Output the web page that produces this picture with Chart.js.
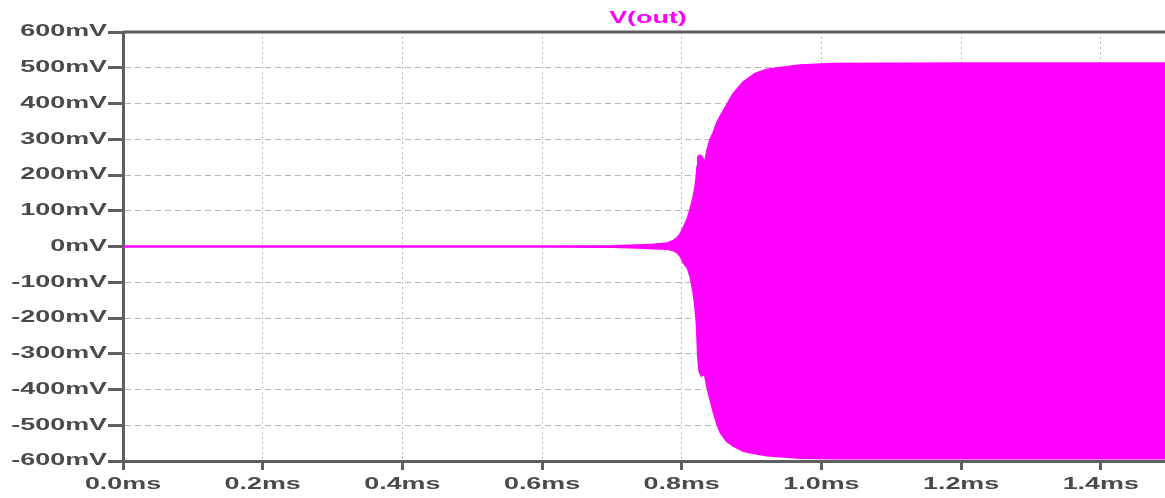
<!DOCTYPE html>
<html>
<head>
<meta charset="UTF-8">
<title>V(out)</title>
<script src="https://cdn.jsdelivr.net/npm/chart.js@4.4.0/dist/chart.umd.min.js"></script>
<style>
  html, body { margin: 0; padding: 0; background: #fff; }
  #wrap { width: 1165px; height: 498px; }
</style>
</head>
<body>
<div id="wrap"><canvas id="chart"></canvas></div>
<script>
  // envelope of V(out) (ms / mV)
  const timeMs = [0.000, 0.600, 0.700, 0.736, 0.760, 0.779, 0.787, 0.793, 0.798, 0.802,
                  0.808, 0.812, 0.816, 0.819, 0.821, 0.822, 0.823, 0.825, 0.828, 0.830,
                  0.833, 0.836, 0.840, 0.845, 0.850, 0.855, 0.864, 0.873, 0.888, 0.905,
                  0.922, 0.969, 1.016, 1.200, 1.492];
  const upperMv = [1.5, 1.5, 2, 4, 6, 10, 16, 24, 36, 52,
                   78, 105, 135, 165, 200, 225, 250, 255, 254, 248,
                   237, 268, 298, 318, 345, 365, 395, 426, 461, 484,
                   496, 508, 512, 513, 513];
  const lowerMv = [-1.5, -1.5, -2, -4, -6, -8, -11, -17, -28, -45,
                   -60, -84, -124, -170, -215, -260, -310, -350, -363, -358,
                   -362, -392, -425, -462, -495, -520, -545, -558, -573, -580,
                   -585, -592, -594, -594, -594];
  const yTicks = [-600, -500, -400, -300, -200, -100, 0, 100, 200, 300, 400, 500, 600];
  const xTicks = [0.0, 0.2, 0.4, 0.6, 0.8, 1.0, 1.2, 1.4];

  const traceColor = '#ff00ff';
  const axisColor = '#5f5f5f';
  const gridColor = '#b8b8b8';
  const labelColor = '#4a4a4a';
  const labelFont = { family: 'Liberation Sans', size: 16, weight: 'bold' };
  const textStretch = 1.68; // the screenshot's lettering is stretched sideways

  const spicePlot = {
    id: 'spicePlot',
    beforeInit(chart) {
      // draw every text stretched around its anchor point
      const ctx = chart.ctx;
      const baseFill = CanvasRenderingContext2D.prototype.fillText;
      ctx.fillText = function (text, x, y) {
        this.save();
        this.translate(x, y);
        this.scale(textStretch, 1);
        baseFill.call(this, text, 0, 0);
        this.restore();
      };
    },
    afterDraw(chart) {
      const { ctx, chartArea } = chart;
      ctx.save();
      // top frame line
      ctx.strokeStyle = axisColor;
      ctx.lineWidth = 3;
      ctx.beginPath();
      ctx.moveTo(chartArea.left, chartArea.top);
      ctx.lineTo(chartArea.right, chartArea.top);
      ctx.stroke();
      // trace name
      ctx.fillStyle = traceColor;
      ctx.font = 'bold 16px "Liberation Sans"';
      ctx.textAlign = 'center';
      ctx.textBaseline = 'middle';
      ctx.fillText('V(out)', 648, 19);
      ctx.restore();
    }
  };

  new Chart(document.getElementById('chart'), {
    type: 'line',
    data: {
      datasets: [{
        label: 'V(out)',
        data: timeMs.map((t, i) => ({ x: t, y: upperMv[i] })),
        borderColor: traceColor,
        backgroundColor: traceColor,
        borderWidth: 1.5,
        pointRadius: 0,
        fill: '+1'
      }, {
        label: 'V(out) low',
        data: timeMs.map((t, i) => ({ x: t, y: lowerMv[i] })),
        borderColor: traceColor,
        backgroundColor: traceColor,
        borderWidth: 1.5,
        pointRadius: 0,
        fill: false
      }]
    },
    options: {
      responsive: true,
      maintainAspectRatio: false,
      animation: false,
      layout: { padding: { top: 32, left: 0, right: 0, bottom: 0 } },
      plugins: {
        legend: { display: false },
        tooltip: { enabled: false }
      },
      scales: {
        x: {
          type: 'linear',
          min: 0,
          max: 1.492,
          afterBuildTicks: (scale) => { scale.ticks = xTicks.map(v => ({ value: v })); },
          afterFit: (scale) => { scale.height = 37; },
          ticks: {
            includeBounds: false,
            autoSkip: false,
            color: labelColor,
            font: labelFont,
            padding: 5,
            maxRotation: 0,
            callback: (v) => Number(v).toFixed(1) + 'ms'
          },
          grid: {
            color: gridColor,
            lineWidth: 1,
            tickLength: 9,
            tickWidth: 3,
            tickColor: axisColor,
            tickBorderDash: []
          },
          border: { color: axisColor, width: 3, dash: [2, 3] }
        },
        y: {
          min: -600,
          max: 600,
          afterBuildTicks: (scale) => { scale.ticks = yTicks.map(v => ({ value: v })); },
          afterFit: (scale) => { scale.width = 123; },
          ticks: {
            autoSkip: false,
            color: labelColor,
            font: labelFont,
            padding: 1,
            callback: (v) => v + 'mV'
          },
          grid: {
            color: gridColor,
            lineWidth: 1,
            tickLength: 15,
            tickWidth: 3,
            tickColor: axisColor,
            tickBorderDash: []
          },
          border: { color: axisColor, width: 3, dash: [6, 4] }
        }
      }
    },
    plugins: [spicePlot]
  });
</script>
</body>
</html>
